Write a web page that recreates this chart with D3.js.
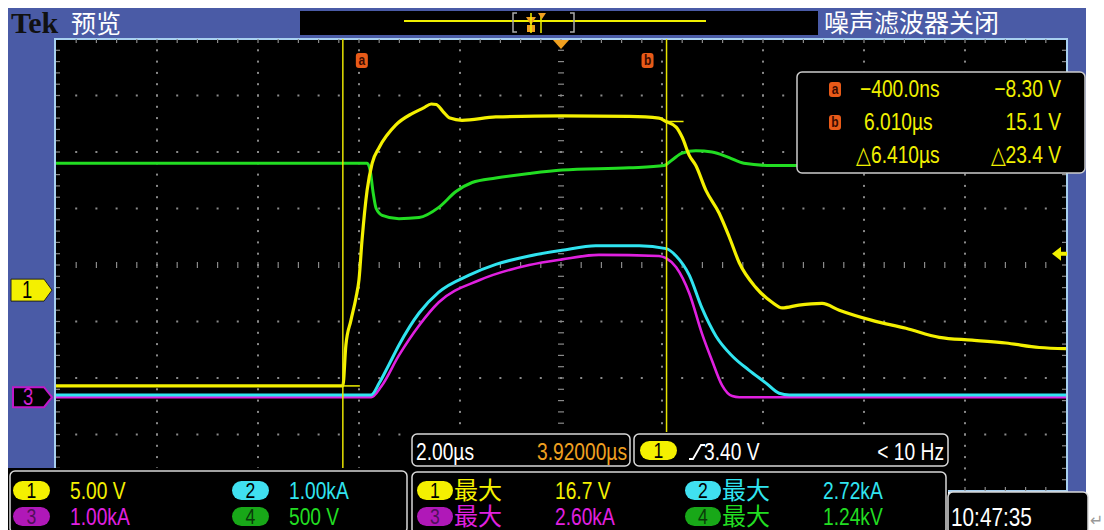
<!DOCTYPE html>
<html>
<head>
<meta charset="utf-8">
<script src="https://cdn.jsdelivr.net/npm/d3@7"></script>
<style>
  body { margin: 0; background: #fff; }
  svg { display: block; }
</style>
</head>
<body>
<div id="scope"></div>
<script>

// waveform samples: [time in us, value in channel units]
var ch1Points = [[-6.08, -8.3], [-0.40, -8.3], [-0.34, -4.7], [-0.24, -2.5], [-0.14, -0.5], [-0.08, 1.1],
    [-0.02, 4.6], [0.08, 9.0], [0.18, 11.4], [0.32, 12.8], [0.65, 14.8], [0.97, 15.8], [1.20, 16.3],
    [1.35, 16.65], [1.45, 16.6], [1.58, 16.0], [1.72, 15.4], [1.96, 15.2], [2.63, 15.5], [3.94, 15.6],
    [5.27, 15.55], [5.86, 15.4], [6.00, 15.1], [6.20, 14.6], [6.32, 13.7], [6.46, 12.1], [6.59, 11.2],
    [6.79, 9.0], [7.05, 7.0], [7.25, 4.9], [7.45, 2.6], [7.78, 0.4], [8.10, -0.9], [8.30, -1.4],
    [8.63, -1.15], [9.09, -1.0], [9.43, -1.6], [10.08, -2.5], [10.75, -3.2], [11.41, -4.0],
    [12.06, -4.25], [12.73, -4.5], [13.39, -4.9], [13.92, -5.0]];

var ch2Points = [[-6.08, 0.04], [0.16, 0.04], [0.32, 0.25], [0.51, 0.57], [0.71, 0.92], [1.11, 1.49],
    [1.50, 1.86], [2.10, 2.16], [2.63, 2.35], [3.29, 2.50], [3.94, 2.60], [4.61, 2.68], [5.47, 2.68],
    [6.00, 2.63], [6.20, 2.50], [6.46, 2.16], [6.71, 1.58], [6.99, 1.08], [7.31, 0.73], [7.64, 0.48],
    [7.98, 0.25], [8.24, 0.07], [8.44, 0.04], [13.92, 0.04]];

var ch3Points = [[-6.08, 0.0], [0.16, 0.0], [0.36, 0.19], [0.71, 0.74], [1.11, 1.27], [1.50, 1.68],
    [2.30, 2.07], [3.29, 2.34], [3.94, 2.44], [4.67, 2.52], [5.86, 2.50], [6.00, 2.46], [6.20, 2.30],
    [6.46, 1.84], [6.71, 1.13], [6.91, 0.65], [7.11, 0.21], [7.31, 0.02], [7.45, 0.0], [13.92, 0.0]];

var ch4Points = [[-6.08, 1.14], [0.08, 1.14], [0.14, 1.08], [0.20, 0.88], [0.26, 0.74], [0.38, 0.68],
    [0.71, 0.65], [1.11, 0.66], [1.50, 0.75], [1.84, 0.89], [2.16, 0.97], [2.63, 1.01], [3.29, 1.05],
    [3.94, 1.08], [5.27, 1.10], [5.96, 1.12], [6.12, 1.17], [6.32, 1.23], [6.59, 1.25], [6.91, 1.24],
    [7.25, 1.19], [7.54, 1.14], [8.10, 1.12], [13.92, 1.12]];

var channelNames = ["1", "2", "3", "4"];
var channelScaleText = ["5.00 V", "1.00kA", "1.00kA", "500 V"];
var channelMaxText = ["16.7 V", "2.72kA", "2.60kA", "1.24kV"];
var channelPerDiv = [5, 1, 1, 0.5];          // units per division
var channelGround = [-0.48, -2.34, -2.34, -0.48]; // divisions from centre

var timePerDiv = 2.0;      // us
var timeCentre = 3.92;     // us (horizontal delay)
var cursorTimes = [-0.4, 6.01];
var cursorLevels = [-8.30, 15.1];
var cursorLabels = ["a", "b"];
var cursorReadout = [["\u2212400.0ns", "\u22128.30 V"], ["6.010\u00b5s", "15.1 V"], ["\u25b36.410\u00b5s", "\u25b323.4 V"]];
var triggerLevel = 3.40;

var SANS = "'Liberation Sans', Arial, sans-serif";
var CJK = "'Noto Sans CJK SC', sans-serif";


Scope = function(_parentElement) {
    this.parentElement = _parentElement;
    this.initVis();
};


Scope.prototype.initVis = function() {
    var vis = this;

    vis.width = 1104;
    vis.height = 530;
    vis.plot = { left: 56, top: 39, divX: 101, divY: 56.5 };
    vis.plot.w = vis.plot.divX * 10;
    vis.plot.h = vis.plot.divY * 8;

    vis.colors = ["#f4f000", "#30e4f0", "#e020e0", "#22dd22"];
    vis.pillColors = ["#f4f000", "#40e0f0", "#b018b8", "#18a818"];
    vis.pillText = ["#000", "#000", "#50105a", "#0a3a0a"];

    vis.svg = d3.select(vis.parentElement)
        .append("svg")
        .attr("width", vis.width)
        .attr("height", vis.height);

    vis.svg.append("rect").attr("width", vis.width).attr("height", vis.height).attr("fill", "#fff");

    // blue bezel
    vis.svg.append("rect")
        .attr("x", 8).attr("y", 8).attr("width", 1078).attr("height", 484)
        .attr("fill", "#4a5ba6");

    // header
    vis.svg.append("text").attr("x", 11).attr("y", 33)
        .attr("font-family", "'Liberation Serif', serif").attr("font-weight", "bold")
        .attr("font-size", 30).attr("fill", "#111").text("Tek");
    vis.svg.append("text").attr("x", 71).attr("y", 33)
        .attr("font-family", CJK).attr("font-size", 25).attr("fill", "#fff").text("预览");
    vis.svg.append("text").attr("x", 824).attr("y", 32)
        .attr("font-family", CJK).attr("font-size", 25).attr("fill", "#fff").text("噪声滤波器关闭");

    // record view bar
    var rec = vis.svg.append("g");
    rec.append("rect").attr("x", 300).attr("y", 11).attr("width", 518).attr("height", 24).attr("fill", "#000");
    rec.append("line").attr("x1", 404).attr("x2", 706).attr("y1", 21).attr("y2", 21)
        .attr("stroke", "#f0f000").attr("stroke-width", 2);
    rec.append("path").attr("d", "M517,13 h-4 v19 h4 M570,13 h4 v19 h-4")
        .attr("fill", "none").attr("stroke", "#aaa").attr("stroke-width", 1.5);
    rec.append("path").attr("d", "M526,17 h10 l-5,8 z M527,25 h8 v7 h-8 z").attr("fill", "#f0a020");
    rec.append("line").attr("x1", 531).attr("x2", 531).attr("y1", 13).attr("y2", 33)
        .attr("stroke", "#f0f000").attr("stroke-width", 1.5);
    rec.append("line").attr("x1", 541).attr("x2", 541).attr("y1", 13).attr("y2", 33)
        .attr("stroke", "#f0f000").attr("stroke-width", 1.5);
    rec.append("path").attr("d", "M538,13 h8 l-4,6 z").attr("fill", "#f0a020");

    vis.x = d3.scaleLinear()
        .domain([timeCentre - 5 * timePerDiv, timeCentre + 5 * timePerDiv])
        .range([vis.plot.left, vis.plot.left + vis.plot.w]);

    vis.wrangleData();
};


Scope.prototype.wrangleData = function() {
    var vis = this;

    var points = [ch1Points, ch2Points, ch3Points, ch4Points];
    vis.channels = channelNames.map(function(name, i) {
        var per = channelPerDiv[i], pos = channelGround[i];
        var y = d3.scaleLinear()
            .domain([(-4 - pos) * per, (4 - pos) * per])
            .range([vis.plot.top + vis.plot.h, vis.plot.top]);
        return { name: name, index: i, y: y, points: points[i], color: vis.colors[i] };
    });

    vis.updateVis();
};


// scope readout font is a narrow sans: squeeze Liberation Sans horizontally
Scope.prototype.label = function(g, x, y, str, color, size, anchor) {
    return g.append("text")
        .attr("transform", "translate(" + x + "," + y + ") scale(0.8,1)")
        .attr("text-anchor", anchor || "start")
        .attr("font-family", SANS).attr("font-size", size)
        .attr("fill", color).text(str);
};


Scope.prototype.pill = function(g, x, y, w, h, i, label, size) {
    var vis = this;
    g.append("rect").attr("x", x).attr("y", y).attr("width", w).attr("height", h)
        .attr("rx", h / 2).attr("fill", vis.pillColors[i]);
    vis.label(g, x + w / 2, y + h / 2 + size * 0.36, label, vis.pillText[i], size, "middle");
};


Scope.prototype.updateVis = function() {
    var vis = this;
    var p = vis.plot;

    // graticule
    var grat = vis.svg.append("g");
    grat.append("rect").attr("x", p.left - 1).attr("y", p.top).attr("width", p.w + 2).attr("height", p.h)
        .attr("fill", "#000").attr("stroke", "#a8d0f0").attr("stroke-width", 2);

    var minorX = d3.range(1, 50).map(function(k) { return p.left + k * p.divX / 5; });
    var minorY = d3.range(1, 40).map(function(k) { return p.top + k * p.divY / 5; });
    var dots = [];
    d3.range(1, 10).forEach(function(i) {
        if (i === 5) return;
        minorY.forEach(function(yy) { dots.push([p.left + i * p.divX, yy]); });
    });
    d3.range(1, 8).forEach(function(j) {
        if (j === 4) return;
        minorX.forEach(function(xx) { dots.push([xx, p.top + j * p.divY]); });
    });
    grat.selectAll(".dot").data(dots).enter().append("rect")
        .attr("x", function(d) { return d[0] - 1; }).attr("y", function(d) { return d[1] - 1; })
        .attr("width", 2).attr("height", 2).attr("fill", "#8a8a8a");

    var cx = p.left + 5 * p.divX, cy = p.top + 4 * p.divY;
    var ticks = grat.append("g").attr("stroke", "#8a8a8a").attr("stroke-width", 1.2);
    minorY.forEach(function(yy) {
        ticks.append("line").attr("x1", cx - 3).attr("x2", cx + 3).attr("y1", yy).attr("y2", yy);
        ticks.append("line").attr("x1", p.left).attr("x2", p.left + 4).attr("y1", yy).attr("y2", yy);
        ticks.append("line").attr("x1", p.left + p.w - 4).attr("x2", p.left + p.w).attr("y1", yy).attr("y2", yy);
    });
    minorX.forEach(function(xx) {
        ticks.append("line").attr("y1", cy - 3).attr("y2", cy + 3).attr("x1", xx).attr("x2", xx);
        ticks.append("line").attr("y1", p.top).attr("y2", p.top + 4).attr("x1", xx).attr("x2", xx);
        ticks.append("line").attr("y1", p.top + p.h - 4).attr("y2", p.top + p.h).attr("x1", xx).attr("x2", xx);
    });

    // traces (green under, yellow on top)
    var order = [3, 2, 1, 0];
    var widths = [3.2, 3, 2.6, 3];
    order.forEach(function(i) {
        var ch = vis.channels[i];
        var line = d3.line()
            .x(function(d) { return vis.x(d[0]); })
            .y(function(d) { return ch.y(d[1]); })
            .curve(d3.curveMonotoneX);
        vis.svg.append("path").datum(ch.points)
            .attr("d", line).attr("fill", "none")
            .attr("stroke", ch.color).attr("stroke-width", widths[i])
            .attr("stroke-linejoin", "round");
    });

    // cursors
    var ch1 = vis.channels[0];
    cursorTimes.forEach(function(t, k) {
        var xx = vis.x(t);
        vis.svg.append("line").attr("x1", xx).attr("x2", xx).attr("y1", p.top).attr("y2", p.top + p.h)
            .attr("stroke", "#e8e400").attr("stroke-width", 1.5);
        var yy = ch1.y(cursorLevels[k]);
        vis.svg.append("line").attr("x1", xx).attr("x2", xx + 17).attr("y1", yy).attr("y2", yy)
            .attr("stroke", "#f0f000").attr("stroke-width", 1.5);
        var lx = k === 0 ? xx + 13 : xx - 25;
        vis.svg.append("rect").attr("x", lx).attr("y", 53).attr("width", 12).attr("height", 15)
            .attr("rx", 3).attr("fill", "#e85a18");
        vis.label(vis.svg, lx + 6, 65, cursorLabels[k], "#3a0a00", 15, "middle").attr("font-weight", "bold");
    });

    // trigger position and level markers
    vis.svg.append("path").attr("d", "M" + (cx - 8) + "," + (p.top + 1) + " h16 l-8,9 z").attr("fill", "#f0a020");
    var ty = ch1.y(triggerLevel);
    vis.svg.append("path")
        .attr("d", "M1052," + ty + " l9,-7 v5 h6 v4 h-6 v5 z")
        .attr("fill", "#f0f000");

    // left channel markers
    var m1 = ch1.y(0) - 2, m3 = vis.channels[2].y(0);
    vis.svg.append("path").attr("d", "M11," + (m1 - 11) + " h33 l8,11 l-8,11 h-33 z")
        .attr("fill", "#f4f000").attr("stroke", "#222").attr("stroke-width", 1);
    vis.label(vis.svg, 27, m1 + 8, "1", "#000", 23, "middle");
    vis.svg.append("path").attr("d", "M13," + (m3 - 10) + " h31 l8,10 l-8,10 h-31 z")
        .attr("fill", "#000").attr("stroke", "#c018c8").attr("stroke-width", 2);
    vis.label(vis.svg, 28, m3 + 8, "3", "#d020d0", 23, "middle");

    // cursor readout box
    var cb = vis.svg.append("g");
    cb.append("rect").attr("x", 797).attr("y", 72).attr("width", 288).attr("height", 101).attr("rx", 5)
        .attr("fill", "#000").attr("stroke", "#ccc").attr("stroke-width", 1.5);
    cursorReadout.forEach(function(row, r) {
        var yy = 97 + r * 33;
        if (r < 2) {
            cb.append("rect").attr("x", 829).attr("y", yy - 15).attr("width", 12).attr("height", 15)
                .attr("rx", 3).attr("fill", "#e85a18");
            vis.label(cb, 835, yy - 3, cursorLabels[r], "#3a0a00", 15, "middle").attr("font-weight", "bold");
        }
        vis.label(cb, r === 0 ? 860 : (r === 1 ? 864 : 856), yy, row[0], "#f0f000", 24);
        vis.label(cb, 1061, yy, row[1], "#f0f000", 24, "end");
    });

    // bottom readouts
    var bot = vis.svg.append("g");
    bot.append("rect").attr("x", 8).attr("y", 468).attr("width", 940).attr("height", 62).attr("fill", "#000");
    bot.append("rect").attr("x", 408).attr("y", 432).attr("width", 542).attr("height", 40).attr("fill", "#000");
    var box = function(x, y, w, h) {
        bot.append("rect").attr("x", x).attr("y", y).attr("width", w).attr("height", h).attr("rx", 5)
            .attr("fill", "#000").attr("stroke", "#d8d8d8").attr("stroke-width", 1.5);
    };
    box(10, 471, 397, 62);
    box(412, 434, 218, 32);
    box(634, 434, 314, 32);
    box(412, 472, 534, 62);
    box(948, 492, 140, 42);

    // channel scale box
    channelNames.forEach(function(name, i) {
        var col = i % 2, row = Math.floor(i / 2);
        var x0 = col === 0 ? 13 : 232, y0 = 481 + row * 26;
        vis.pill(bot, x0, y0, 37, 19, i, name, 22);
        vis.label(bot, x0 + 57, y0 + 18, channelScaleText[i], vis.colors[i], 24);
    });

    // timebase box
    vis.label(bot, 416, 460, timePerDiv.toFixed(2) + "\u00b5s", "#fff", 24);
    vis.label(bot, 627, 460, timeCentre.toFixed(5) + "\u00b5s", "#f0a020", 24, "end");

    // trigger box
    vis.pill(bot, 640, 441, 37, 19, 0, "1", 22);
    bot.append("path").attr("d", "M689,459 h4 l8,-14 h4").attr("fill", "none")
        .attr("stroke", "#fff").attr("stroke-width", 1.8);
    vis.label(bot, 704, 460, triggerLevel.toFixed(2) + " V", "#fff", 24);
    vis.label(bot, 944, 460, "< 10 Hz", "#fff", 24, "end");

    // measurement box
    channelNames.forEach(function(name, i) {
        var col = i === 0 || i === 2 ? 0 : 1, row = i < 2 ? 0 : 1;
        var x0 = col === 0 ? 417 : 685, y0 = 481 + row * 26;
        vis.pill(bot, x0, y0, 36, 19, i, name, 22);
        bot.append("text").attr("x", x0 + 37).attr("y", y0 + 18)
            .attr("font-family", CJK).attr("font-size", 24).attr("fill", vis.colors[i]).text("最大");
        vis.label(bot, x0 + 138, y0 + 18, channelMaxText[i], vis.colors[i], 24);
    });

    // clock
    vis.label(bot, 951, 526, "10:47:35", "#fff", 26);
    vis.svg.append("text").attr("x", 1090).attr("y", 526).attr("font-family", "'DejaVu Sans', sans-serif")
        .attr("font-size", 16).attr("fill", "#999").text("\u21b5");
};


new Scope("#scope");
</script>
</body>
</html>
